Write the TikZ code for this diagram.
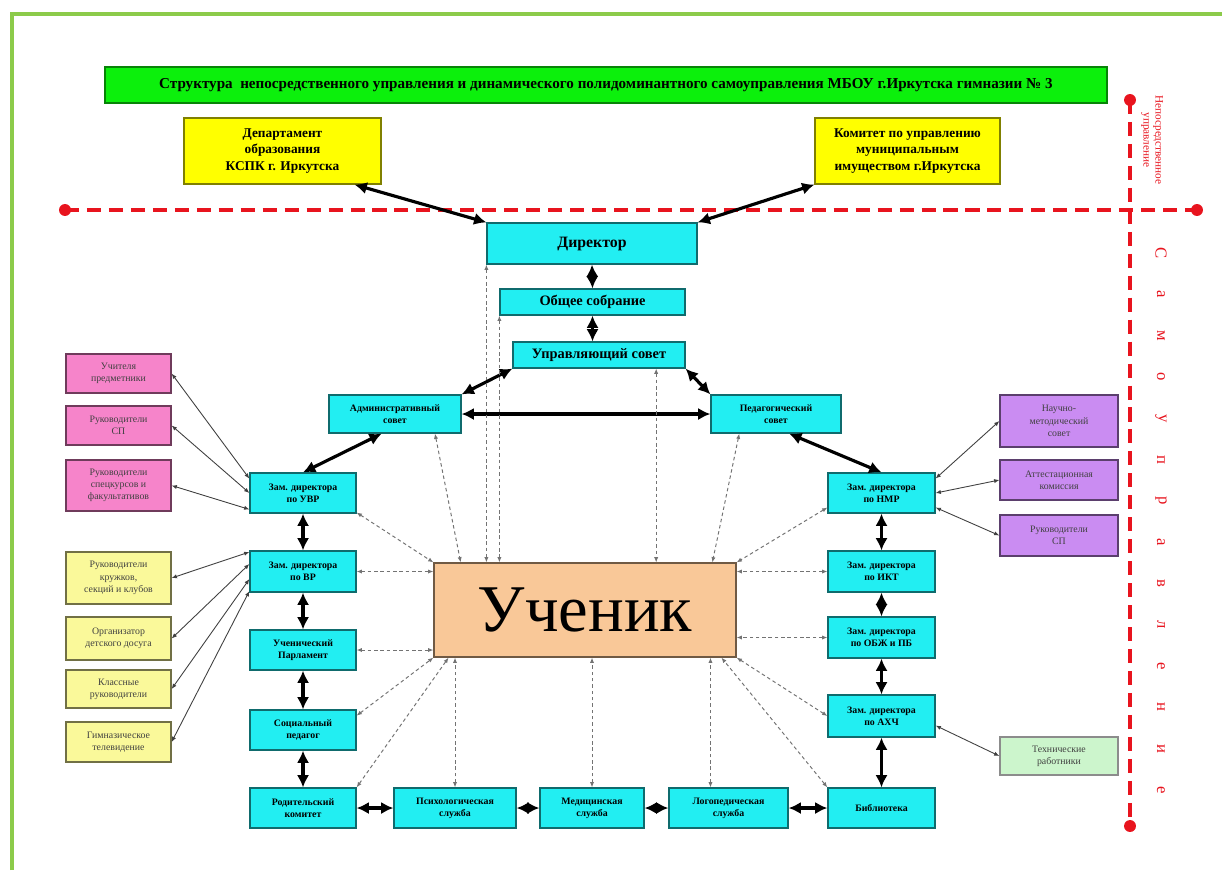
\documentclass[tikz,border=0pt]{standalone}
\usepackage{fontspec}
\setmainfont{Liberation Serif}
\usetikzlibrary{calc,arrows.meta}

\definecolor{frameg}{HTML}{8CCB4A}
\definecolor{titleg}{HTML}{0CF00C}
\definecolor{boxcyan}{HTML}{22EEF2}
\definecolor{boxpink}{HTML}{F684CA}
\definecolor{boxyel}{HTML}{FAF99A}
\definecolor{topyel}{HTML}{FFFF00}
\definecolor{boxpurp}{HTML}{CA8CF2}
\definecolor{boxtech}{HTML}{CCF5CC}
\definecolor{boxpeach}{HTML}{F9C898}
\definecolor{selfred}{HTML}{E8141E}

\tikzset{
  sz/.style 2 args={minimum width=#1*0.02cm, minimum height=#2*0.02cm},
  base/.style={draw, line width=0.7pt, align=center, inner sep=1pt},
  titlebox/.style={base, fill=titleg, draw=titleg!55!black, font=\bfseries\fontsize{8.6}{10}\selectfont},
  topbox/.style={base, fill=topyel, draw=topyel!50!black, font=\bfseries\fontsize{7.6}{9.4}\selectfont},
  cyanbox/.style={base, fill=boxcyan, draw=boxcyan!45!black, font=\bfseries\fontsize{5.6}{7}\selectfont},
  headbox/.style={cyanbox, font=\bfseries\fontsize{8.2}{9.5}\selectfont},
  pinkbox/.style={base, fill=boxpink, draw=boxpink!45!black, text=black!75, font=\fontsize{5.6}{7}\selectfont},
  yelbox/.style={base, fill=boxyel, draw=boxyel!45!black, text=black!75, font=\fontsize{5.6}{7}\selectfont},
  purpbox/.style={base, fill=boxpurp, draw=boxpurp!45!black, text=black!75, font=\fontsize{5.6}{7}\selectfont},
  techbox/.style={base, fill=boxtech, draw=black!45, text=black!75, font=\fontsize{5.6}{7}\selectfont},
  dbl/.style={line width=1.8pt, {Latex[length=7pt,width=7pt]}-{Latex[length=7pt,width=7pt]}},
  lnk/.style={draw=black!75, line width=0.5pt, {Latex[length=3pt,width=2.4pt]}-{Latex[length=3pt,width=2.4pt]}},
  dep/.style={draw=black!55, line width=0.55pt, dash pattern=on 2pt off 1.6pt, {Latex[length=3pt,width=2.4pt]}-{Latex[length=3pt,width=2.4pt]}},
  redline/.style={selfred, line width=2pt, dash pattern=on 8pt off 4.5pt},
  selftxt/.style={text=selfred, font=\fontsize{9.5}{10}\selectfont, inner sep=0pt}
}

\begin{document}
\begin{tikzpicture}[x=0.02cm, y=-0.02cm]
\useasboundingbox (0,0) rectangle (1222,870);
\fill[white] (0,0) rectangle (1222,870);
% frame
\draw[frameg, line width=2.3pt] (12,870) -- (12,14) -- (1222,14);

\node[titlebox, sz={1002}{36}] (title) at (606,85) {Структура\ \ непосредственного управления и динамического полидоминантного самоуправления МБОУ г.Иркутска гимназии № 3};
\node[topbox, sz={197}{66}] (dept) at (282.5,151) {Департамент\\образования\\КСПК г. Иркутска};
\node[topbox, sz={185}{66}] (komitet) at (907.5,151) {Комитет по управлению\\муниципальным\\имуществом г.Иркутска};

% red borders of the two levels
\coordinate (hl) at (65,210);
\coordinate (hr) at (1197,210);
\coordinate (vt) at (1130,100);
\coordinate (vb) at (1130,826);
\draw[redline] (hl) -- (hr);
\draw[redline] (vt) -- (vb);
\foreach \p in {hl,hr,vt,vb} \fill[selfred] (\p) circle (3.4pt);
\node[text=selfred, rotate=-90, align=center, inner sep=0pt, font=\fontsize{6.4}{6.8}\selectfont] (direct) at (1152,140) {Непосредственное\\управление};
\foreach \l [count=\i from 0] in {С,а,м,о,у,п,р,а,в,л,е,н,и,е}
  \node[selftxt, rotate=-90] (self\i) at (1161,253+41.3*\i) {\l};

% centre column
\node[headbox, sz={210}{41}, font=\bfseries\fontsize{9}{10}\selectfont] (director) at (592,243.5) {Директор};
\node[headbox, sz={185}{26}] (sobranie) at (592.5,302) {Общее собрание};
\node[headbox, sz={172}{26}] (upravsovet) at (599,355) {Управляющий совет};
\node[cyanbox, sz={132}{38}] (admsovet) at (395,414) {Административный\\совет};
\node[cyanbox, sz={130}{38}] (pedsovet) at (776,414) {Педагогический\\совет};
\node[base, fill=boxpeach, draw=boxpeach!45!black, sz={302}{94}, font=\fontsize{38}{40}\selectfont] (uchenik) at (585,610) {Ученик};

% left side
\node[pinkbox, sz={105}{39}] (pink1) at (118.5,373.5) {Учителя\\предметники};
\node[pinkbox, sz={105}{39}] (pink2) at (118.5,425.5) {Руководители\\СП};
\node[pinkbox, sz={105}{51}] (pink3) at (118.5,485.5) {Руководители\\спецкурсов и\\факультативов};
\node[yelbox, sz={105}{52}] (yel1) at (118.5,578) {Руководители\\кружков,\\секций и клубов};
\node[yelbox, sz={105}{43}] (yel2) at (118.5,638.5) {Организатор\\детского досуга};
\node[yelbox, sz={105}{38}] (yel3) at (118.5,689) {Классные\\руководители};
\node[yelbox, sz={105}{40}] (yel4) at (118.5,742) {Гимназическое\\телевидение};

\node[cyanbox, sz={106}{40}] (uvr) at (303,493) {Зам. директора\\по УВР};
\node[cyanbox, sz={106}{41}] (vr) at (303,571.5) {Зам. директора\\по ВР};
\node[cyanbox, sz={106}{40}] (parl) at (303,650) {Ученический\\Парламент};
\node[cyanbox, sz={106}{40}] (socped) at (303,730) {Социальный\\педагог};
\node[cyanbox, sz={106}{40}] (rodkom) at (303,808) {Родительский\\комитет};

% bottom row
\node[cyanbox, sz={122}{40}] (psych) at (455,808) {Психологическая\\служба};
\node[cyanbox, sz={104}{40}] (med) at (592,808) {Медицинская\\служба};
\node[cyanbox, sz={119}{40}] (logo) at (728.5,808) {Логопедическая\\служба};
\node[cyanbox, sz={107}{40}] (bibl) at (881.5,808) {Библиотека};

% right side
\node[cyanbox, sz={107}{40}] (nmr) at (881.5,493) {Зам. директора\\по НМР};
\node[cyanbox, sz={107}{41}] (ikt) at (881.5,571.5) {Зам. директора\\по ИКТ};
\node[cyanbox, sz={107}{41}] (obzh) at (881.5,637.5) {Зам. директора\\по ОБЖ и ПБ};
\node[cyanbox, sz={107}{42}] (ahch) at (881.5,716) {Зам. директора\\по АХЧ};
\node[purpbox, sz={118}{52}] (purp1) at (1059,421) {Научно-\\методический\\совет};
\node[purpbox, sz={118}{40}] (purp2) at (1059,480) {Аттестационная\\комиссия};
\node[purpbox, sz={118}{41}] (purp3) at (1059,535.5) {Руководители\\СП};
\node[techbox, sz={118}{38}] (tech) at (1059,756) {Технические\\работники};

% thick links
\draw[dbl] (dept.-25) -- (director.north west);
\draw[dbl] (komitet.south west) -- (director.north east);
\draw[dbl] (director.south) -- (sobranie.north);
\draw[dbl] (sobranie.south) -- (sobranie.south |- upravsovet.north);
\draw[dbl] (upravsovet.south west) -- (admsovet.north east);
\draw[dbl] (upravsovet.south east) -- (pedsovet.north west);
\draw[dbl] (admsovet.east) -- (pedsovet.west);
\draw[dbl] ($(admsovet.south west)!0.4!(admsovet.south east)$) -- (uvr.north);
\draw[dbl] ($(pedsovet.south west)!0.6!(pedsovet.south east)$) -- (nmr.north);
\draw[dbl] (uvr) -- (vr);
\draw[dbl] (vr) -- (parl);
\draw[dbl] (parl) -- (socped);
\draw[dbl] (socped) -- (rodkom);
\draw[dbl] (rodkom) -- (psych);
\draw[dbl] (psych) -- (med);
\draw[dbl] (med) -- (logo);
\draw[dbl] (logo) -- (bibl);
\draw[dbl] (bibl) -- (ahch);
\draw[dbl] (ahch) -- (obzh);
\draw[dbl] (obzh) -- (ikt);
\draw[dbl] (ikt) -- (nmr);

% thin links
\draw[lnk] (pink1.east) -- (uvr.165);
\draw[lnk] (pink2.east) -- (uvr.180);
\draw[lnk] (pink3.east) -- (uvr.197);
\draw[lnk] (yel1.east) -- (vr.160);
\draw[lnk] (yel2.east) -- (vr.172);
\draw[lnk] (yel3.east) -- (vr.188);
\draw[lnk] (yel4.east) -- (vr.200);
\draw[lnk] (purp1.west) -- (nmr.15);
\draw[lnk] (purp2.west) -- (nmr.0);
\draw[lnk] (purp3.west) -- (nmr.-15);
\draw[lnk] (tech.west) -- (ahch.-10);

% dashed links to the pupil
\draw[dep] (director.south west) -- (director.south west |- uchenik.north);
\draw[dep] (sobranie.south west) -- (sobranie.south west |- uchenik.north);
\draw[dep] ($(upravsovet.south west)!0.83!(upravsovet.south east)$) coordinate (us) -- (us |- uchenik.north);
\draw[dep] ($(admsovet.south west)!0.8!(admsovet.south east)$) -- ($(uchenik.north west)!0.09!(uchenik.north east)$);
\draw[dep] ($(pedsovet.south west)!0.22!(pedsovet.south east)$) -- ($(uchenik.north west)!0.92!(uchenik.north east)$);
\draw[dep] (uvr.-20) -- (uchenik.north west);
\draw[dep] (vr.east) -- (vr.east -| uchenik.west);
\draw[dep] (parl.east) -- (parl.east -| uchenik.west);
\draw[dep] (socped.15) -- (uchenik.south west);
\draw[dep] (rodkom.north east) -- ($(uchenik.south west)!0.05!(uchenik.south east)$);
\draw[dep] (psych.north) -- (psych.north |- uchenik.south);
\draw[dep] (med.north) -- (med.north |- uchenik.south);
\draw[dep] ($(logo.north west)!0.35!(logo.north east)$) coordinate (lg) -- (lg |- uchenik.south);
\draw[dep] (bibl.north west) -- ($(uchenik.south west)!0.95!(uchenik.south east)$);
\draw[dep] (ahch.west) -- (uchenik.south east);
\draw[dep] (obzh.west) -- (obzh.west -| uchenik.east);
\draw[dep] (ikt.west) -- (ikt.west -| uchenik.east);
\draw[dep] (nmr.195) -- (uchenik.north east);
\end{tikzpicture}
\end{document}
